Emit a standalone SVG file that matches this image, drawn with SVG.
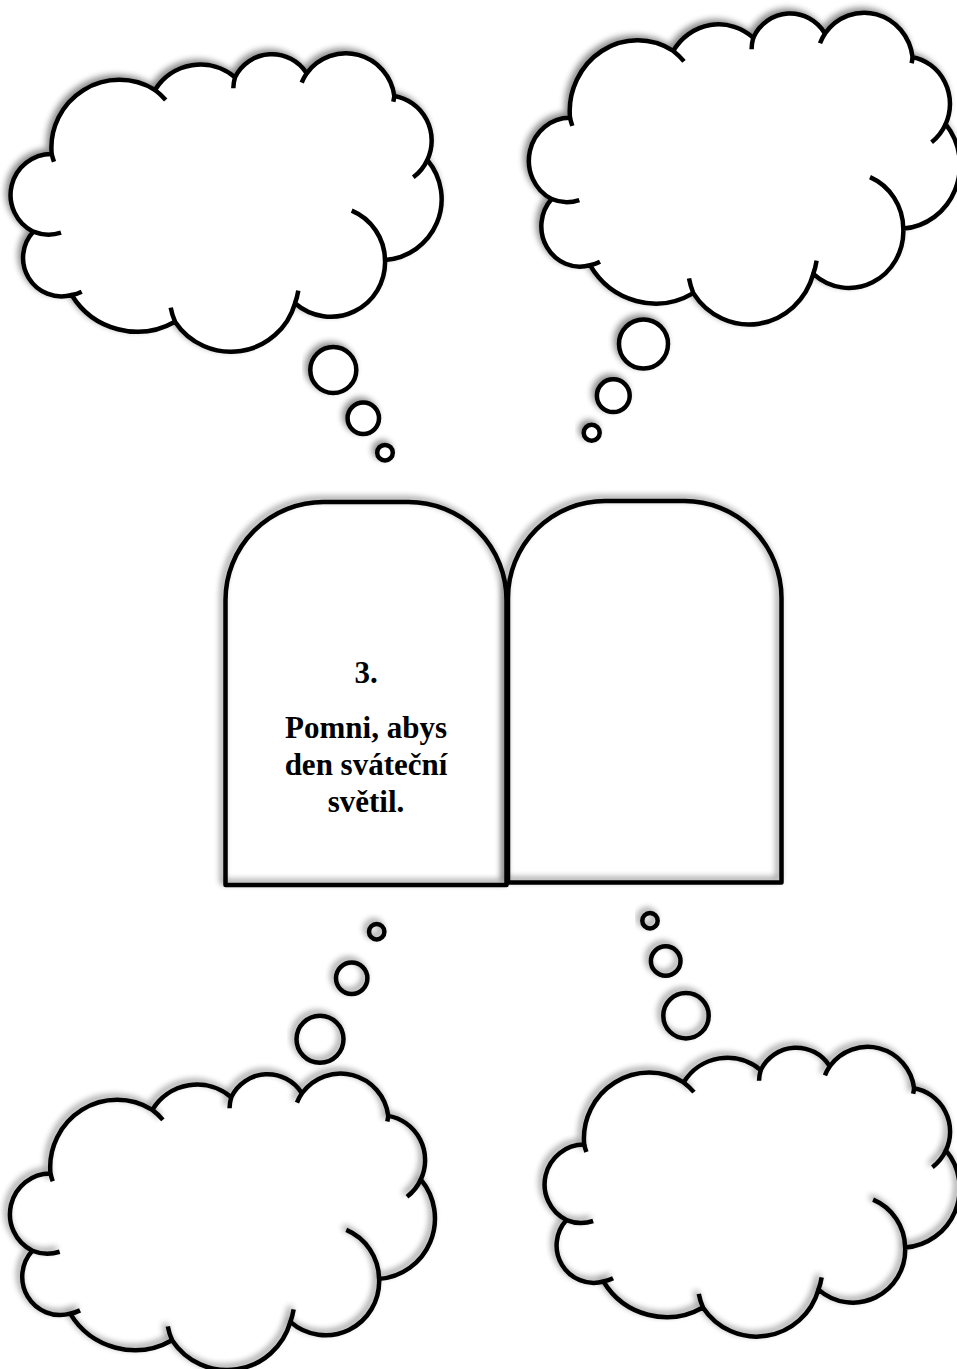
<svg xmlns="http://www.w3.org/2000/svg" xmlns:xlink="http://www.w3.org/1999/xlink" width="957" height="1369" viewBox="0 0 957 1369">
<defs>
<filter id="sh" x="-10%" y="-10%" width="120%" height="120%">
<feGaussianBlur in="SourceAlpha" stdDeviation="3"/>
<feOffset dx="-3" dy="-3" result="o"/>
<feComponentTransfer><feFuncA type="linear" slope="0.45"/></feComponentTransfer>
<feMerge><feMergeNode/><feMergeNode in="SourceGraphic"/></feMerge>
</filter>
<g id="cloud">
<path class="ol" d="M51.7,114 A67.9,67.9 0 0 1 155,50 A53.3,53.3 0 0 1 235,37.3 A41.1,41.1 0 0 1 306.7,33.3 A48.7,48.7 0 0 1 394.3,56 A45.3,45.3 0 0 1 427.3,120 A60.9,60.9 0 0 1 385,220 A54.3,54.3 0 0 1 295,263.3 A66.8,66.8 0 0 1 175,281.7 A76.7,76.7 0 0 1 71.7,255 A38.5,38.5 0 0 1 33.3,191.7 A41,41 0 0 1 51.7,114 Z"/>
<path class="tk" d="M54,121.7 A67.9,67.9 0 0 1 51.7,114 M155,50 A67.9,67.9 0 0 1 165.7,60 M233.3,48.3 A41.1,41.1 0 0 1 235,37.3 M301.7,42.7 A48.7,48.7 0 0 1 306.7,33.3 M394.3,56 A48.7,48.7 0 0 1 393.3,61.7 M427.3,120 A45.3,45.3 0 0 1 413.3,137.3 M385,220 A54.3,54.3 0 0 0 351.7,170.7 M295,263.3 A66.8,66.8 0 0 0 298.3,250.7 M175,281.7 A66.8,66.8 0 0 1 170.7,267.7 M71.7,255 A38.5,38.5 0 0 0 81.7,251.7 M33.3,191.7 A41,41 0 0 0 61,192.7"/>
</g>
</defs>
<style>
.ol,.tk,.b,.tab{stroke:#000;stroke-width:4.5px;vector-effect:non-scaling-stroke;stroke-linejoin:round}
.tk{fill:none}
.top{fill:#fff}
.bot{fill:none}
.tab{fill:none}
.t{font-family:"Liberation Serif","Times New Roman",serif;font-weight:bold;font-size:31px;text-anchor:middle;fill:#000}
</style>
<rect width="957" height="1369" fill="#fff"/>

<g id="cloud-top-left" class="top" filter="url(#sh)">
<use xlink:href="#cloud" transform="translate(0,40)"/>
</g>
<g id="cloud-top-right" class="top" filter="url(#sh)">
<use xlink:href="#cloud" transform="translate(518.3,-1.3) scale(1,1.045)"/>
</g>
<g id="cloud-bottom-left" class="bot" filter="url(#sh)">
<use xlink:href="#cloud" transform="translate(-0.5,1060.2) scale(0.986,0.994)"/>
</g>
<g id="cloud-bottom-right" class="bot" filter="url(#sh)">
<use xlink:href="#cloud" transform="translate(534.4,1033.9) scale(0.963,0.971)"/>
</g>

<g id="connectors">
<g id="bubbles-top-left" class="top" filter="url(#sh)">
<circle class="b" cx="333.3" cy="370" r="23"/>
<circle class="b" cx="363.3" cy="418.3" r="15.7"/>
<circle class="b" cx="385" cy="452.7" r="7.8"/>
</g>
<g id="bubbles-top-right" class="top" filter="url(#sh)">
<circle class="b" cx="643.5" cy="344" r="24.5"/>
<circle class="b" cx="613.3" cy="395.7" r="16.4"/>
<circle class="b" cx="591.7" cy="432.7" r="8"/>
</g>
<g id="bubbles-bottom-left" class="bot" filter="url(#sh)">
<circle class="b" cx="376.7" cy="931.7" r="7.7"/>
<circle class="b" cx="351.7" cy="978.3" r="15.7"/>
<circle class="b" cx="320" cy="1039.3" r="23.5"/>
</g>
<g id="bubbles-bottom-right" class="bot" filter="url(#sh)">
<circle class="b" cx="650" cy="920.7" r="7.7"/>
<circle class="b" cx="665.7" cy="961" r="14.8"/>
<circle class="b" cx="686" cy="1015.7" r="22.7"/>
</g>
</g>

<g id="tablet-right">
<path class="tab" filter="url(#sh)" d="M508,882.5 V598 A97,97 0 0 1 605,501 H684.5 A97,97 0 0 1 781.5,598 V882.5 Z"/>
</g>
<g id="tablet-left">
<path class="tab" filter="url(#sh)" d="M225.5,885 V600 A98,98 0 0 1 323.5,502 H408.5 A98,98 0 0 1 506.5,600 V885 Z"/>
<text class="t" x="366" y="683">3.</text>
<text class="t" x="366" y="738">Pomni, abys</text>
<text class="t" x="366" y="775">den sváteční</text>
<text class="t" x="366" y="811.5">světil.</text>
</g>
</svg>
